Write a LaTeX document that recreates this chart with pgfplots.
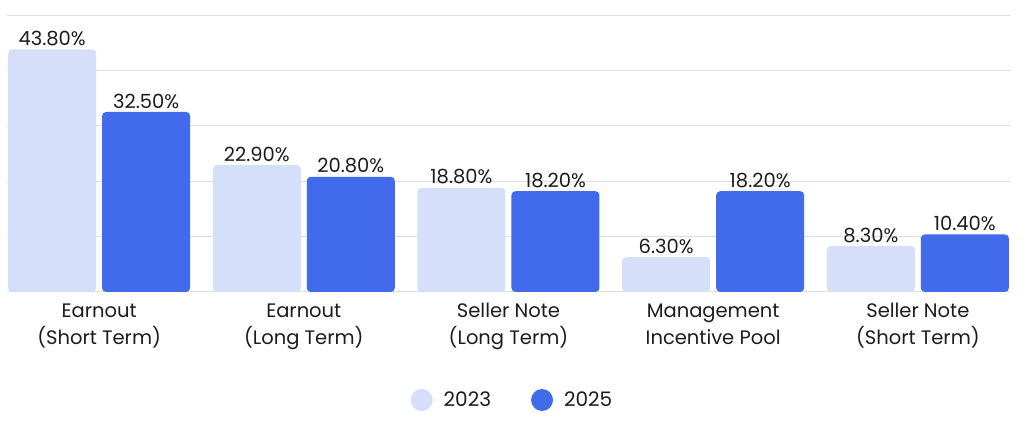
\documentclass[border=0pt]{standalone}
\usepackage{fontspec}
\setmainfont{Poppins}
\usepackage{pgfplots}
\pgfplotsset{compat=1.18}
\definecolor{light}{HTML}{D6DFFA}
\definecolor{dark}{HTML}{416BEA}
\definecolor{txt}{HTML}{1C1C1C}
\definecolor{gridc}{HTML}{DEDEDE}
\begin{document}
\begin{tikzpicture}
\useasboundingbox (0,0) rectangle (1024pt,425pt);
\begin{axis}[
  at={(7pt,133pt)}, anchor=south west,
  scale only axis, width=1003pt, height=277pt,
  xmin=-0.45, xmax=4.45, ymin=1, ymax=51,
  ytick={1,11,21,31,41,51}, yticklabels={},
  ymajorgrids, grid style={gridc, line width=1pt},
  axis line style={draw=none},
  major tick length=0pt,
  xtick={0,1,2,3,4},
  xticklabels={{Earnout\\(Short Term)},{Earnout\\(Long Term)},{Seller Note\\(Long Term)},{Management\\Incentive Pool},{Seller Note\\(Short Term)}},
  xticklabel style={align=center, font=\fontsize{19.5}{27}\selectfont, text=txt, yshift=-8pt},
  ybar, bar width=88pt,
  y filter/.expression={y+1},
  point meta=rawy,
  nodes near coords={\pgfmathprintnumber[fixed,fixed zerofill,precision=2]{\pgfplotspointmeta}\%},
  nodes near coords style={font=\fontsize{19.5}{22}\selectfont, text=txt},
  /pgf/number format/assume math mode=true,
  every axis plot/.append style={draw=none, rounded corners=4pt},
  legend columns=2,
  legend style={at={(0.5,0)}, anchor=center, yshift=-108pt, xshift=4pt, draw=none, fill=none,
    font=\fontsize{20}{22}\selectfont, text=txt,
    column sep=9pt, /tikz/every even column/.append style={column sep=38pt}},
  legend image code/.code={\fill (0pt,0pt) circle (11pt);},
]
\addplot[fill=light, bar shift=-47pt] coordinates {(0,43.8) (1,22.9) (2,18.8) (3,6.3) (4,8.3)};
\addplot[fill=dark, bar shift=47pt] coordinates {(0,32.5) (1,20.8) (2,18.2) (3,18.2) (4,10.4)};
\legend{2023,2025}
\end{axis}
\end{tikzpicture}
\end{document}
